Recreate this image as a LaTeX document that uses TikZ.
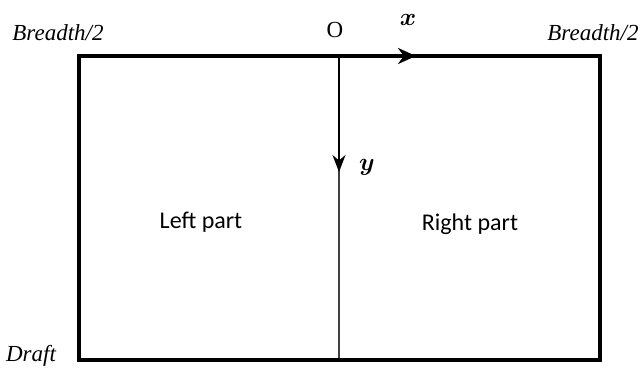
\documentclass[tikz,border=0pt]{standalone}
\usepackage{fontspec}
\usepackage{amsmath,bm}
\setmainfont{Liberation Serif}
\newfontfamily\calib{Carlito}
\usetikzlibrary{arrows.meta}
\begin{document}
\begin{tikzpicture}[x=1pt,y=-1pt,
  border/.style={line width=3.6pt},
  axisarrow/.style={line width=2pt,-{Stealth[length=17pt,width=13pt]}},
  midline/.style={line width=1.3pt,draw=black!75},
  corner/.style={font=\fontsize{23}{26}\selectfont\itshape,inner sep=0pt},
  part/.style={font=\calib\fontsize{24}{28}\selectfont,inner sep=0pt},
  axlabel/.style={font=\fontsize{30}{34}\selectfont,inner sep=0pt}]
\useasboundingbox (0,0) rectangle (642,369);
\coordinate (tl) at (79,56);
\coordinate (br) at (600,360);
\coordinate (o) at (339,56);
\coordinate (ob) at (339,360);
\coordinate (xt) at (416,56);
\coordinate (yt) at (339,172);
\draw[midline] (o) -- (ob);
\draw[border] (tl) rectangle (br);
\draw[line width=3.6pt,-{Stealth[length=18pt,width=16pt]}] (o) -- (xt);
\draw[axisarrow] (o) -- (yt);
\node[corner] (bl2) at (58,33) {Breadth/2};
\node[corner] (br2) at (593,33) {Breadth/2};
\node[corner] (dr) at (31,356) {Draft};
\node[font=\fontsize{23}{26}\selectfont,inner sep=0pt] (O) at (335,30) {O};
\node[axlabel] (xl) at (408,20) {$\bm{x}$};
\node[axlabel] (yl) at (367,167) {$\bm{y}$};
\node[part] (lp) at (201,222) {Left part};
\node[part] (rp) at (470,224) {Right part};
\end{tikzpicture}
\end{document}
